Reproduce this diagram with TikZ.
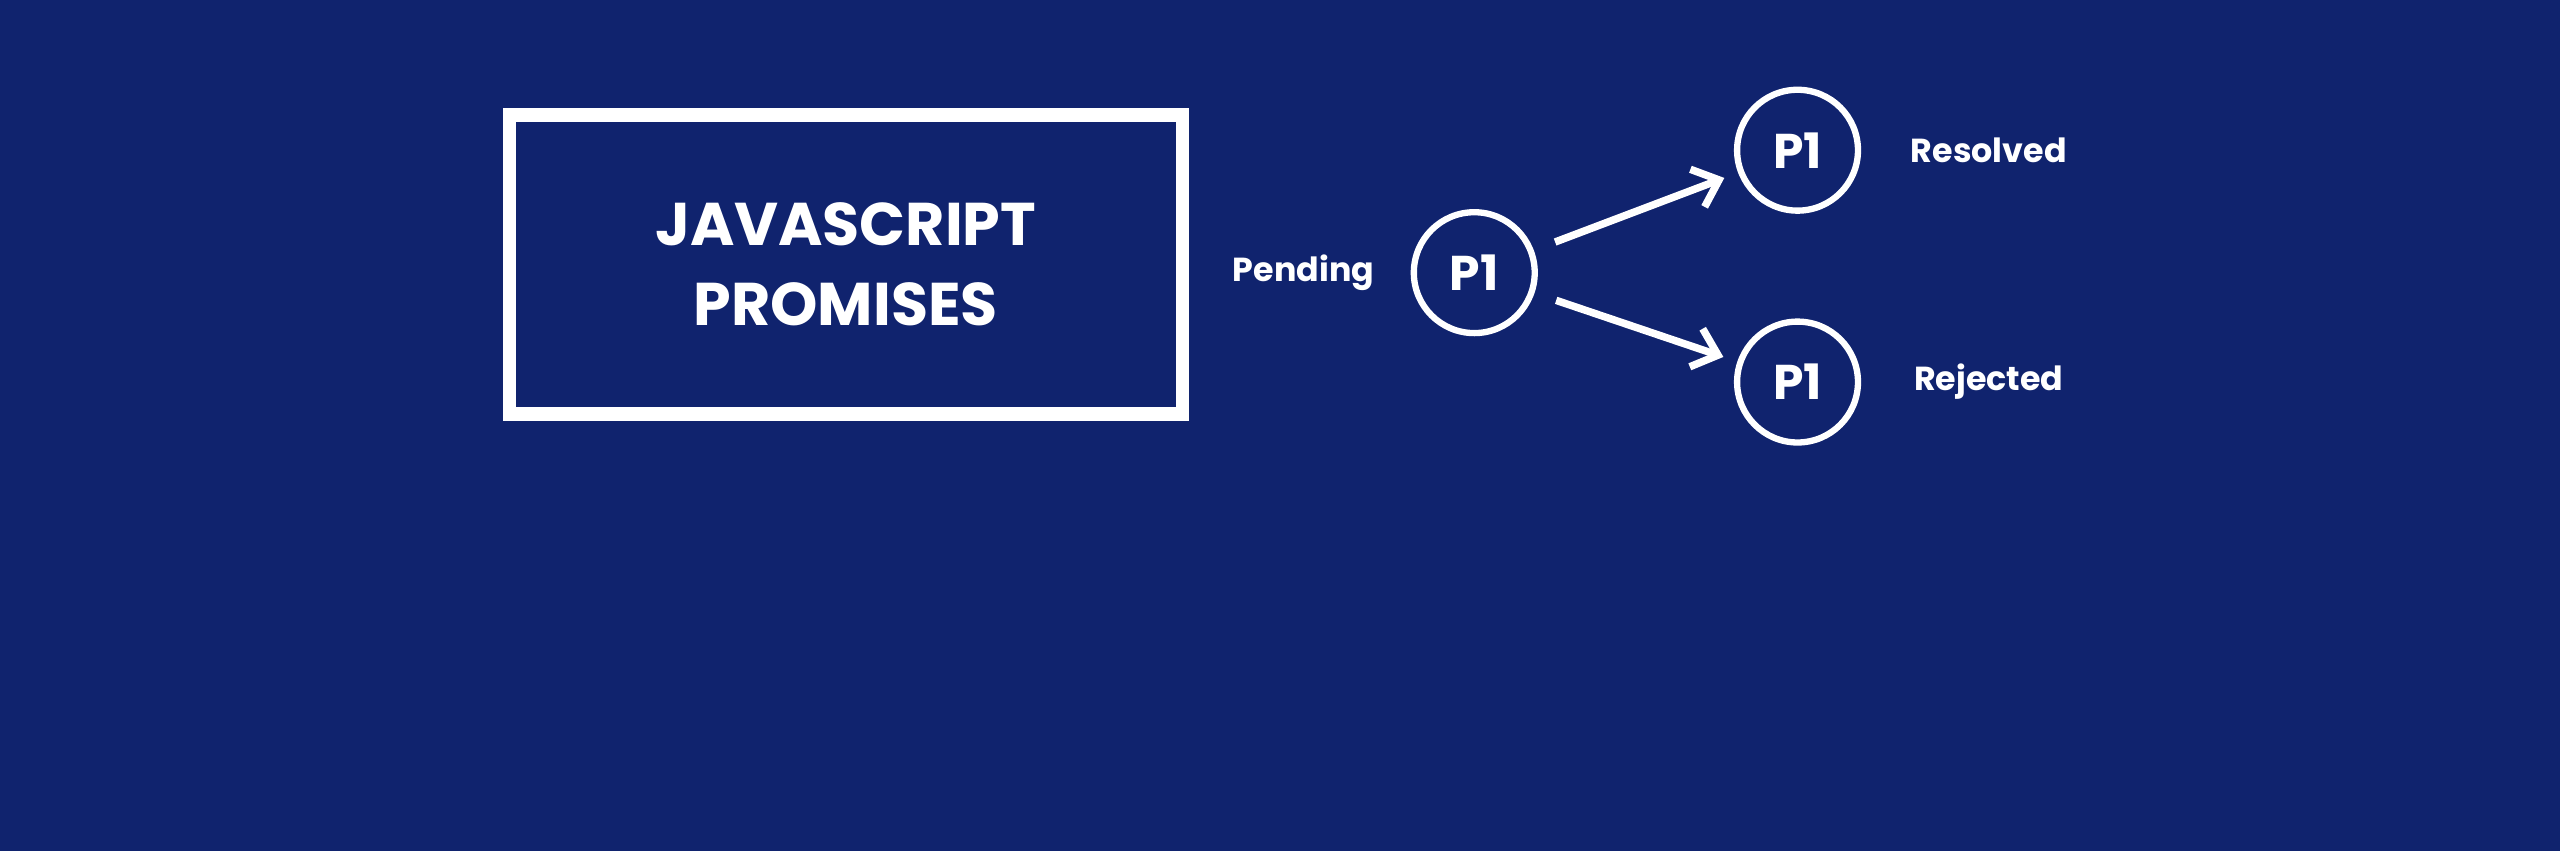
\documentclass[tikz,border=0pt]{standalone}
\usepackage{fontspec}
\setmainfont{Poppins}
\usetikzlibrary{positioning,arrows.meta}
\definecolor{bgblue}{HTML}{10236E}

\begin{document}
\begin{tikzpicture}[x=0.01cm, y=-0.01cm, auto]
	\tikzstyle{state} = [circle, draw=white, line width=1.1pt, minimum size=0.74cm, inner sep=0pt, text=white, font=\bfseries\fontsize{8.5}{10}\selectfont]
	\tikzstyle{tag} = [text=white, font=\bfseries\fontsize{5.8}{7}\selectfont]
	\tikzstyle{line} = [draw=white, line width=1.3pt, -{Straight Barb[length=4pt, width=7pt]}, shorten <=0.14cm, shorten >=0.09cm]

	    % Background
	    \fill [bgblue] (0,0) rectangle (1568,521);
	    \useasboundingbox (0,0) rectangle (1568,521);

	    % Place nodes
	    \node [draw=white, line width=2.3pt, minimum width=4.12cm, minimum height=1.83cm, align=center, text=white, font=\bfseries\fontsize{10.5}{14}\selectfont] (title) at (518,162) {JAVASCRIPT\\PROMISES};
	    \node [state] (pend) at (903,167) {P1};
	    \node [state] (res) at (1101,92) {P1};
	    \node [state] (rej) at (1101,234) {P1};
	    \node [tag, left=0.1cm of pend] (pendlbl) {Pending};
	    \node [tag, right=0.18cm of res] (reslbl) {Resolved};
	    \node [tag, right=0.20cm of rej] (rejlbl) {Rejected};

	    % Draw edges
	    \path [line] (pend) -- (res);
	    \path [line] (pend) -- (rej);

\end{tikzpicture}
\end{document}
